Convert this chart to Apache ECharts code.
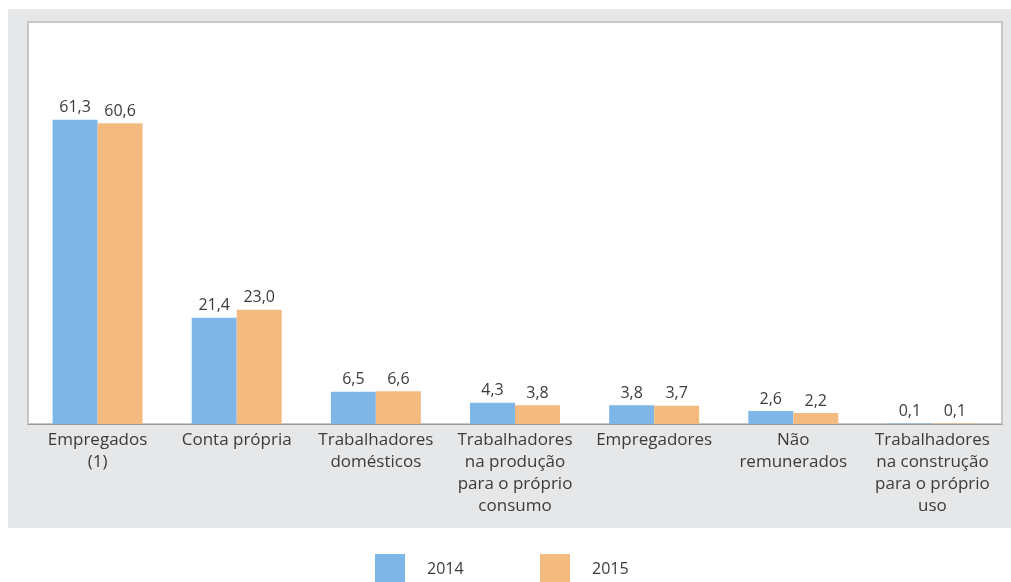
<!DOCTYPE html>
<html>
<head>
<meta charset="utf-8">
<script src="https://cdn.jsdelivr.net/npm/echarts@6/dist/echarts.min.js"></script>
<style>
  html, body { margin: 0; padding: 0; background: #ffffff; }
  #chart { width: 1011px; height: 582px; }
</style>
</head>
<body>
<div id="chart"></div>
<script>
// Categories of occupied persons (position in occupation)
const categories = [
  'Empregados\n(1)',
  'Conta própria',
  'Trabalhadores\ndomésticos',
  'Trabalhadores\nna produção\npara o próprio\nconsumo',
  'Empregadores',
  'Não\nremunerados',
  'Trabalhadores\nna construção\npara o próprio\nuso'
];

// Share (%) per year
const values2014 = [61.3, 21.4, 6.5, 4.3, 3.8, 2.6, 0.1];
const values2015 = [60.6, 23.0, 6.6, 3.8, 3.7, 2.2, 0.1];

const seriesNames = ['2014', '2015'];

const FONT = '"Open Sans", "DejaVu Sans", sans-serif';
const TEXT = '#3b3b3b';
const BLUE = '#7db6e7';
const ORANGE = '#f4bb81';

const fmt = v => v.toFixed(1).replace('.', ',');

const chart = echarts.init(document.getElementById('chart'), null, { renderer: 'canvas' });

const labelStyle = {
  show: true,
  position: 'top',
  distance: 4,
  color: TEXT,
  fontFamily: FONT,
  fontSize: 16,
  formatter: p => fmt(p.value)
};

const legendBase = {
  top: 554,
  padding: 0,
  itemWidth: 30,
  itemHeight: 30,
  icon: 'rect',
  textStyle: { color: TEXT, fontFamily: FONT, fontSize: 16, padding: [0, 0, 0, 17] }
};

chart.setOption({
  animation: false,
  backgroundColor: '#ffffff',
  graphic: [
    {
      type: 'rect',
      z: -10,
      silent: true,
      shape: { x: 8, y: 9, width: 1003, height: 519 },
      style: { fill: '#e6e7e8' }
    }
  ],
  grid: {
    left: 28,
    right: 9,
    top: 22,
    bottom: 158,
    show: true,
    backgroundColor: '#ffffff',
    borderColor: '#c6c7c8',
    borderWidth: 2
  },
  legend: [
    Object.assign({ data: [seriesNames[0]], left: 375 }, legendBase),
    Object.assign({ data: [seriesNames[1]], left: 540 }, legendBase)
  ],
  xAxis: {
    type: 'category',
    data: categories,
    axisLine: { show: true, lineStyle: { color: '#9c9c9c', width: 1 } },
    axisTick: { show: false },
    axisLabel: {
      interval: 0,
      margin: 5,
      color: TEXT,
      fontFamily: FONT,
      fontSize: 17,
      lineHeight: 22,
      align: 'center'
    }
  },
  yAxis: {
    type: 'value',
    min: 0,
    max: 81,
    show: false,
    splitLine: { show: false }
  },
  series: [
    {
      name: seriesNames[0],
      type: 'bar',
      data: values2014,
      barWidth: 45,
      barGap: '0%',
      itemStyle: { color: BLUE },
      label: labelStyle
    },
    {
      name: seriesNames[1],
      type: 'bar',
      data: values2015,
      barWidth: 45,
      barGap: '0%',
      itemStyle: { color: ORANGE },
      label: labelStyle
    }
  ]
});
</script>
</body>
</html>
